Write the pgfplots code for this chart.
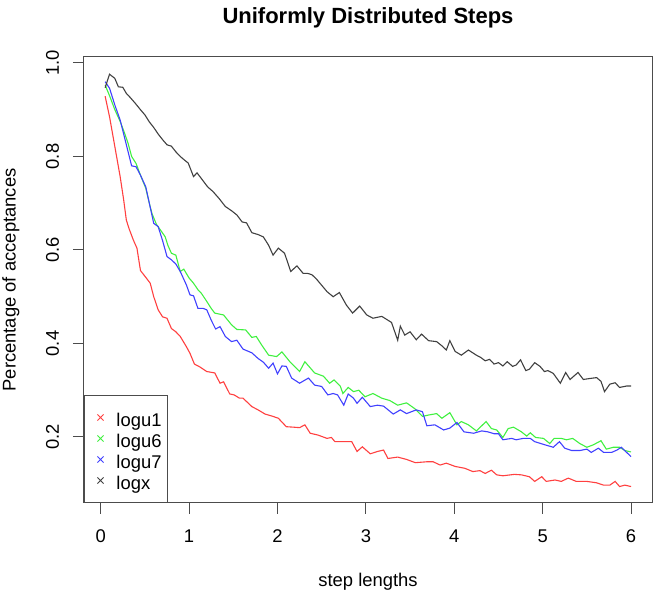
\documentclass[border=0pt]{standalone}
\usepackage{fontspec}
\setmainfont{Liberation Sans}
\usepackage{pgfplots}
\pgfplotsset{compat=1.18}
\definecolor{myred}{RGB}{255,64,64}
\definecolor{mygreen}{RGB}{64,240,64}
\definecolor{myblue}{RGB}{64,64,255}
\definecolor{mygray}{RGB}{64,64,64}
\begin{document}
\begin{tikzpicture}
\begin{axis}[
  at={(0pt,0pt)}, anchor=south west,
  scale only axis, width=284pt, height=223pt,
  xmin=-0.189, xmax=6.237, ymin=0.0588, ymax=1.0128,
  axis line style={black!70, line width=0.5pt},
  tick style={black!70, line width=0.5pt},
  tick pos=left, tick align=outside, major tick length=5.5pt,
  xtick={0,1,2,3,4,5,6}, xticklabels={0,1,2,3,4,5,6},
  ytick={0.2,0.4,0.6,0.8,1.0}, yticklabels={0.2,0.4,0.6,0.8,1.0},
  /pgf/number format/assume math mode=true,
  tick label style={font=\fontsize{9.2}{11}\selectfont},
  xticklabel style={anchor=base, yshift=-14.5pt},
  yticklabel style={anchor=base, rotate=90, yshift=7pt},
  title={\bfseries Uniformly Distributed Steps},
  title style={font=\fontsize{11}{13}\selectfont, at={(axis description cs:0.5,1)}, anchor=base, yshift=10.5pt},
  xlabel={step lengths},
  xlabel style={font=\fontsize{9.2}{11}\selectfont, at={(axis description cs:0.5,0)}, anchor=base, yshift=-41.8pt},
  ylabel={Percentage of acceptances},
  ylabel style={font=\fontsize{9.2}{11}\selectfont, at={(axis description cs:0,0.5)}, anchor=base, yshift=34.2pt},
  legend image code/.code={\path[draw=none] (0pt,0pt) -- (10pt,0pt); \path[draw=none] plot[only marks, mark=x, mark size=2.2pt, mark options={#1, line width=0.5pt}] coordinates {(5pt,0pt)};},
  legend style={at={(axis description cs:0,0)}, anchor=south west, draw=black!70, line width=0.5pt,
    inner xsep=3pt, inner ysep=5.75pt, column sep=3pt,
    nodes={inner sep=0pt, text height=10pt, text depth=0.5pt},
    font=\fontsize{9.2}{11}\selectfont},
  legend cell align=left,
]
\addplot[myred, line width=0.55pt, forget plot] coordinates {
(0.05,0.929)(0.10,0.885)(0.16,0.821)(0.22,0.757)(0.26,0.707)(0.29,0.664)(0.32,0.646)(0.37,0.621)(0.41,0.604)(0.45,0.556)(0.52,0.539)(0.56,0.529)(0.60,0.50)(0.65,0.472)(0.70,0.457)(0.75,0.454)(0.80,0.432)(0.85,0.425)(0.90,0.415)(0.97,0.393)(1.01,0.379)(1.06,0.356)(1.12,0.35)(1.20,0.34)(1.29,0.337)(1.35,0.315)(1.39,0.318)(1.46,0.292)(1.51,0.29)(1.57,0.283)(1.61,0.283)(1.71,0.265)(1.78,0.258)(1.86,0.249)(1.95,0.244)(2.01,0.24)(2.10,0.222)(2.18,0.221)(2.25,0.22)(2.31,0.226)(2.37,0.208)(2.46,0.204)(2.56,0.197)(2.61,0.199)(2.65,0.19)(2.78,0.19)(2.84,0.19)(2.90,0.169)(2.96,0.179)(3.05,0.164)(3.13,0.169)(3.20,0.172)(3.25,0.154)(3.36,0.157)(3.46,0.152)(3.56,0.145)(3.69,0.147)(3.76,0.147)(3.84,0.14)(3.91,0.144)(4.01,0.137)(4.12,0.133)(4.21,0.126)(4.29,0.128)(4.35,0.122)(4.42,0.129)(4.48,0.119)(4.55,0.117)(4.68,0.12)(4.76,0.119)(4.85,0.115)(4.91,0.105)(4.99,0.115)(5.04,0.105)(5.14,0.108)(5.21,0.105)(5.29,0.112)(5.38,0.105)(5.50,0.105)(5.61,0.102)(5.69,0.097)(5.76,0.097)(5.82,0.105)(5.87,0.094)(5.93,0.097)(6.00,0.094)
};
\addplot[mygreen, line width=0.55pt, forget plot] coordinates {
(0.05,0.953)(0.10,0.93)(0.16,0.9)(0.22,0.875)(0.27,0.85)(0.31,0.828)(0.35,0.80)(0.40,0.785)(0.45,0.76)(0.51,0.732)(0.55,0.70)(0.58,0.678)(0.63,0.655)(0.69,0.639)(0.73,0.628)(0.76,0.61)(0.80,0.593)(0.85,0.589)(0.90,0.554)(0.94,0.559)(1.00,0.54)(1.05,0.529)(1.10,0.515)(1.14,0.507)(1.20,0.49)(1.25,0.475)(1.29,0.465)(1.34,0.463)(1.39,0.461)(1.48,0.44)(1.54,0.43)(1.64,0.429)(1.71,0.413)(1.76,0.415)(1.82,0.397)(1.90,0.375)(1.99,0.372)(2.05,0.382)(2.14,0.361)(2.25,0.34)(2.31,0.361)(2.42,0.337)(2.52,0.33)(2.59,0.315)(2.64,0.322)(2.71,0.309)(2.74,0.293)(2.80,0.306)(2.86,0.297)(2.92,0.30)(2.99,0.286)(3.08,0.293)(3.18,0.283)(3.27,0.278)(3.36,0.268)(3.46,0.273)(3.55,0.261)(3.64,0.244)(3.71,0.247)(3.80,0.25)(3.86,0.24)(3.95,0.252)(4.03,0.226)(4.08,0.233)(4.16,0.226)(4.25,0.213)(4.36,0.233)(4.42,0.218)(4.48,0.215)(4.55,0.199)(4.61,0.218)(4.67,0.221)(4.76,0.211)(4.82,0.202)(4.86,0.209)(4.92,0.199)(5.01,0.197)(5.08,0.186)(5.13,0.197)(5.21,0.197)(5.27,0.194)(5.34,0.197)(5.42,0.186)(5.50,0.178)(5.57,0.183)(5.66,0.192)(5.72,0.174)(5.80,0.178)(5.87,0.178)(5.93,0.171)(6.00,0.168)
};
\addplot[myblue, line width=0.55pt, forget plot] coordinates {
(0.05,0.96)(0.10,0.946)(0.16,0.91)(0.22,0.878)(0.29,0.825)(0.35,0.78)(0.40,0.778)(0.45,0.76)(0.51,0.735)(0.55,0.70)(0.60,0.657)(0.65,0.65)(0.70,0.62)(0.75,0.586)(0.80,0.579)(0.85,0.57)(0.90,0.554)(0.97,0.525)(1.01,0.504)(1.05,0.502)(1.10,0.475)(1.16,0.475)(1.20,0.472)(1.25,0.45)(1.30,0.431)(1.35,0.436)(1.41,0.415)(1.48,0.404)(1.54,0.407)(1.61,0.388)(1.71,0.38)(1.78,0.368)(1.84,0.36)(1.90,0.347)(1.95,0.358)(2.00,0.335)(2.05,0.352)(2.10,0.351)(2.16,0.326)(2.25,0.315)(2.35,0.326)(2.42,0.311)(2.50,0.308)(2.57,0.29)(2.63,0.293)(2.68,0.29)(2.75,0.268)(2.80,0.292)(2.86,0.283)(2.90,0.272)(2.96,0.285)(3.05,0.265)(3.13,0.268)(3.20,0.266)(3.31,0.249)(3.39,0.258)(3.46,0.25)(3.57,0.258)(3.64,0.254)(3.69,0.224)(3.78,0.226)(3.88,0.215)(3.95,0.219)(4.03,0.231)(4.11,0.211)(4.22,0.208)(4.31,0.213)(4.38,0.211)(4.45,0.207)(4.50,0.207)(4.55,0.194)(4.65,0.197)(4.70,0.194)(4.78,0.197)(4.86,0.197)(4.91,0.19)(5.03,0.183)(5.12,0.178)(5.19,0.19)(5.25,0.176)(5.33,0.171)(5.42,0.171)(5.50,0.174)(5.55,0.167)(5.63,0.176)(5.69,0.167)(5.78,0.167)(5.84,0.172)(5.89,0.178)(5.95,0.167)(6.00,0.158)
};
\addplot[mygray, line width=0.55pt, forget plot] coordinates {
(0.05,0.947)(0.10,0.976)(0.16,0.967)(0.20,0.949)(0.25,0.948)(0.29,0.935)(0.33,0.927)(0.39,0.914)(0.45,0.900)(0.50,0.889)(0.55,0.874)(0.60,0.862)(0.65,0.848)(0.70,0.836)(0.75,0.825)(0.80,0.822)(0.85,0.81)(0.90,0.80)(0.95,0.792)(0.99,0.786)(1.05,0.757)(1.09,0.765)(1.15,0.75)(1.21,0.735)(1.27,0.725)(1.34,0.71)(1.41,0.693)(1.48,0.684)(1.54,0.675)(1.60,0.66)(1.65,0.658)(1.71,0.637)(1.78,0.633)(1.84,0.628)(1.90,0.61)(1.95,0.589)(2.01,0.604)(2.08,0.593)(2.15,0.554)(2.22,0.566)(2.29,0.55)(2.34,0.55)(2.39,0.547)(2.44,0.538)(2.48,0.529)(2.56,0.511)(2.63,0.50)(2.70,0.509)(2.78,0.482)(2.85,0.465)(2.93,0.48)(3.01,0.461)(3.08,0.454)(3.18,0.458)(3.29,0.445)(3.36,0.407)(3.39,0.437)(3.44,0.418)(3.50,0.425)(3.57,0.408)(3.63,0.42)(3.71,0.406)(3.80,0.404)(3.86,0.395)(3.91,0.386)(3.95,0.406)(4.01,0.383)(4.08,0.375)(4.16,0.386)(4.25,0.375)(4.30,0.37)(4.35,0.363)(4.40,0.366)(4.45,0.356)(4.50,0.359)(4.55,0.352)(4.60,0.361)(4.66,0.351)(4.70,0.354)(4.75,0.365)(4.81,0.342)(4.85,0.345)(4.91,0.359)(4.97,0.351)(5.02,0.34)(5.06,0.342)(5.12,0.336)(5.20,0.315)(5.26,0.338)(5.31,0.323)(5.40,0.338)(5.46,0.323)(5.53,0.325)(5.61,0.327)(5.66,0.319)(5.70,0.297)(5.76,0.313)(5.82,0.316)(5.87,0.306)(5.95,0.309)(6.00,0.309)
};
\addlegendimage{only marks, mark=x, myred}
\addlegendentry{logu1}
\addlegendimage{only marks, mark=x, mygreen}
\addlegendentry{logu6}
\addlegendimage{only marks, mark=x, myblue}
\addlegendentry{logu7}
\addlegendimage{only marks, mark=x, mygray}
\addlegendentry{logx}
\end{axis}
\pgfresetboundingbox
\path[use as bounding box] (-42pt,-45pt) rectangle (285pt,251.5pt);
\end{tikzpicture}
\end{document}
